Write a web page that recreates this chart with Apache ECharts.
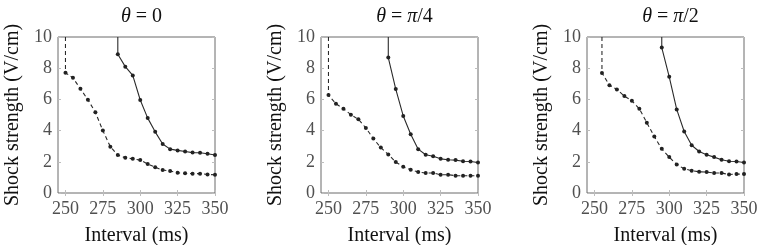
<!DOCTYPE html>
<html>
<head>
<meta charset="utf-8">
<script src="https://cdn.jsdelivr.net/npm/echarts@6/dist/echarts.min.js"></script>
<style>html,body{margin:0;padding:0;background:#fff}#c{width:758px;height:245px}</style>
</head>
<body>
<div id="c"></div>
<script>
// ---- data ----
const panelTitles = ['0', 'π/4', 'π/2'];
const xTicks = [250, 275, 300, 325, 350];
const yTicks = [0, 2, 4, 6, 8, 10];
const capValue = 10; // lines start from the top of the axis

// panel 1 (θ = 0)
const p1DashX = [250,255,260,265,270,275,280,285,290,295,300,305,310,315,320,325,330,335,340,345,350];
const p1DashY = [7.71,7.38,6.68,5.98,5.17,4.0,2.97,2.43,2.26,2.19,2.11,1.86,1.65,1.47,1.41,1.30,1.26,1.24,1.24,1.19,1.17];
const p1SolidX = [285,290,295,300,305,310,315,320,325,330,335,340,345,350];
const p1SolidY = [8.89,8.10,7.54,5.96,4.80,3.92,3.14,2.81,2.73,2.66,2.59,2.58,2.52,2.44];

// panel 2 (θ = π/4)
const p2DashX = [250,255,260,265,270,275,280,285,290,295,300,305,310,315,320,325,330,335,340,345,350];
const p2DashY = [6.28,5.72,5.40,5.02,4.72,4.17,3.49,2.91,2.47,1.98,1.68,1.49,1.34,1.28,1.28,1.17,1.17,1.11,1.11,1.11,1.11];
const p2SolidX = [290,295,300,305,310,315,320,325,330,335,340,345,350];
const p2SolidY = [8.68,6.66,4.94,3.77,2.81,2.45,2.36,2.19,2.13,2.11,2.04,2.02,1.96];

// panel 3 (θ = π/2)
const p3DashX = [255,260,265,270,275,280,285,290,295,300,305,310,315,320,325,330,335,340,345,350];
const p3DashY = [7.70,6.91,6.64,6.21,5.91,5.40,4.51,3.62,2.83,2.30,1.83,1.55,1.43,1.36,1.34,1.28,1.28,1.19,1.21,1.21];
const p3SolidX = [295,300,305,310,315,320,325,330,335,340,345,350];
const p3SolidY = [9.32,7.45,5.36,3.94,3.06,2.66,2.45,2.30,2.13,2.04,2.02,1.96];

const xMin = 245, xMax = 350, yMin = 0, yMax = 10;

// ---- chart ----
const FONT = 'Liberation Serif';
const grids = [
  {left: 58, top: 37, width: 157, height: 156},
  {left: 321, top: 37, width: 157, height: 156},
  {left: 587, top: 37, width: 157, height: 156}
];
const panels = [
  {dx: p1DashX, dy: p1DashY, sx: p1SolidX, sy: p1SolidY},
  {dx: p2DashX, dy: p2DashY, sx: p2SolidX, sy: p2SolidY},
  {dx: p3DashX, dy: p3DashY, sx: p3SolidX, sy: p3SolidY}
];

function build(xs, ys) {
  const d = [{value: [xs[0], capValue], symbol: 'none'}];
  xs.forEach((x, i) => d.push([x, ys[i]]));
  return d;
}

const tickStyle = {show: true, inside: true, length: 3, lineStyle: {color: '#bdbdbd', width: 1}};
const option = {
  animation: false,
  backgroundColor: '#fff',
  textStyle: {fontFamily: FONT},
  title: grids.map((g, i) => ({
    text: '{i|θ} = ' + (i === 0 ? '0' : '{i|π}' + panelTitles[i].slice(1)),
    left: g.left + g.width / 2, top: 2, textAlign: 'center',
    textStyle: {fontFamily: FONT, fontSize: 20, fontWeight: 'normal', color: '#111',
      rich: {i: {fontFamily: FONT, fontSize: 20, fontStyle: 'italic', color: '#111'}}}
  })),
  grid: grids.map(g => Object.assign({show: true, borderColor: '#6b6b6b', borderWidth: 1,
    containLabel: false, outerBoundsMode: 'none'}, g)),
  xAxis: [],
  yAxis: [],
  series: []
};

grids.forEach((g, i) => {
  option.xAxis.push({
    gridIndex: i, type: 'value', min: xMin, max: xMax,
    axisLine: {show: false}, splitLine: {show: false},
    axisTick: Object.assign({customValues: xTicks}, tickStyle),
    axisLabel: {customValues: xTicks, color: '#505050', fontFamily: FONT, fontSize: 18, margin: 7},
    name: 'Interval (ms)', nameLocation: 'middle', nameGap: 33,
    nameTextStyle: {fontFamily: FONT, fontSize: 20, color: '#111'}
  });
  option.xAxis.push({
    gridIndex: i, type: 'value', min: xMin, max: xMax, position: 'top',
    axisLine: {show: false}, splitLine: {show: false},
    axisTick: Object.assign({customValues: xTicks}, tickStyle),
    axisLabel: {show: false}
  });
  option.yAxis.push({
    gridIndex: i, type: 'value', min: yMin, max: yMax, interval: 2,
    axisLine: {show: false}, splitLine: {show: false},
    axisTick: tickStyle,
    axisLabel: {color: '#505050', fontFamily: FONT, fontSize: 18, margin: 6},
    name: 'Shock strength (V/cm)', nameLocation: 'middle', nameGap: 35,
    nameTextStyle: {fontFamily: FONT, fontSize: 20, color: '#111'}
  });
  option.yAxis.push({
    gridIndex: i, type: 'value', min: yMin, max: yMax, interval: 2, position: 'right',
    axisLine: {show: false}, splitLine: {show: false},
    axisTick: tickStyle, axisLabel: {show: false}
  });
  const p = panels[i];
  option.series.push({
    type: 'line', xAxisIndex: 2 * i, yAxisIndex: 2 * i,
    data: build(p.dx, p.dy), symbol: 'circle', symbolSize: 4,
    lineStyle: {color: '#2a2a2a', width: 1.1, type: [4, 3]},
    itemStyle: {color: '#222'}
  });
  option.series.push({
    type: 'line', xAxisIndex: 2 * i, yAxisIndex: 2 * i,
    data: build(p.sx, p.sy), symbol: 'circle', symbolSize: 4,
    lineStyle: {color: '#2a2a2a', width: 1.1},
    itemStyle: {color: '#222'}
  });
});

const chart = echarts.init(document.getElementById('c'), null, {renderer: 'canvas'});
chart.setOption(option);
</script>
</body>
</html>
